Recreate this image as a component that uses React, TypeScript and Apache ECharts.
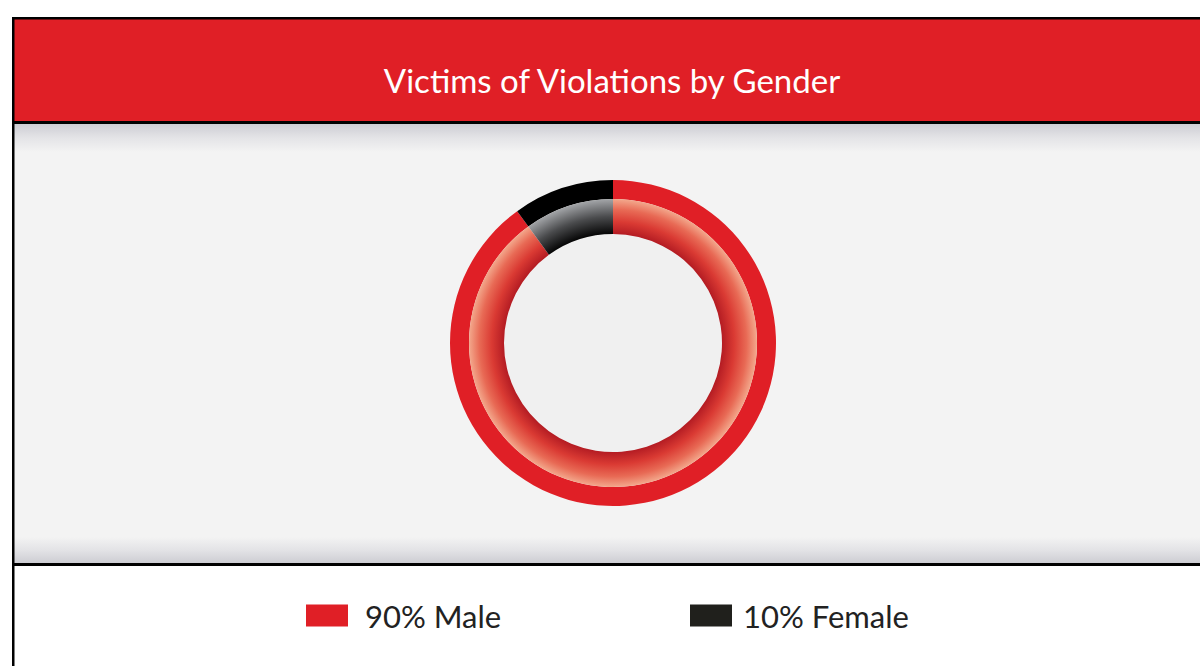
import React, { useEffect, useRef } from "react";
import * as echarts from "echarts";

const titleText = "Victims of Violations by Gender";
const categories = ["Male", "Female"];
const values = [90, 10];
const solidColors = ["#e01f26", "#000000"];
const legendColors = ["#e01f26", "#20201c"];

const CX = 613;
const CY = 343;
const R_IN = 109;
const R_MID = 144;
const R_OUT = 163;

export default function App() {
  const ref = useRef<HTMLDivElement>(null);
  useEffect(() => {
    if (!ref.current) return;
    const chart = echarts.init(ref.current, undefined, { renderer: "svg" });
    const f = R_IN / R_MID;
    const gradColors = [
      new echarts.graphic.RadialGradient(CX, CY, R_MID, [
        { offset: 0, color: "#b41c23" },
        { offset: f, color: "#b41c23" },
        { offset: f + (1 - f) * 0.35, color: "#da3a33" },
        { offset: f + (1 - f) * 0.7, color: "#e86a55" },
        { offset: 1, color: "#f3a88c" },
      ], true),
      new echarts.graphic.RadialGradient(CX, CY, R_MID, [
        { offset: 0, color: "#050505" },
        { offset: f, color: "#050505" },
        { offset: f + (1 - f) * 0.5, color: "#4a4b4d" },
        { offset: 1, color: "#a3a5a8" },
      ], true),
    ];
    const total = values.reduce((a, b) => a + b, 0);
    const fmt = (name: string) => {
      const i = categories.indexOf(name);
      return `${Math.round((values[i] / total) * 100)}% ${name}`;
    };
    const mkSeries = (radius: number[], colors: any[]) => ({
      type: "pie",
      center: [CX, CY],
      radius,
      startAngle: 90,
      clockwise: true,
      silent: true,
      label: { show: false },
      labelLine: { show: false },
      emphasis: { disabled: true },
      itemStyle: { borderWidth: 0 },
      data: categories.map((c, i) => ({
        name: c,
        value: values[i],
        itemStyle: { color: colors[i] },
      })),
    });
    const legendBase = {
      orient: "horizontal",
      top: 595,
      itemWidth: 42,
      itemHeight: 22,
      icon: "rect",
      selectedMode: false,
      formatter: fmt,
    };
    const ts = (pad: number) => ({
      fontFamily: "Lato",
      fontSize: 31,
      color: "#222222",
      padding: [0, 0, 0, pad],
    });
    chart.setOption({
      animation: false,
      backgroundColor: "#ffffff",
      legend: [
        {
          ...legendBase,
          left: 301,
          textStyle: ts(12),
          data: [{ name: categories[0], itemStyle: { color: legendColors[0] } }],
        },
        {
          ...legendBase,
          left: 685,
          textStyle: ts(6),
          data: [{ name: categories[1], itemStyle: { color: legendColors[1] } }],
        },
      ],
      graphic: [
        { type: "rect", z: -10, shape: { x: 14, y: 19, width: 1200, height: 103 }, style: { fill: "#e01f26" } },
        { type: "rect", z: -10, shape: { x: 14, y: 124, width: 1200, height: 439 }, style: { fill: "#f3f3f3" } },
        {
          type: "rect", z: -9, shape: { x: 14, y: 124, width: 1200, height: 28 },
          style: {
            fill: new echarts.graphic.LinearGradient(0, 0, 0, 1, [
              { offset: 0, color: "#cdcdd3" },
              { offset: 0.5, color: "#e4e4e7" },
              { offset: 1, color: "#f3f3f3" },
            ]),
          },
        },
        {
          type: "rect", z: -9, shape: { x: 14, y: 537, width: 1200, height: 26 },
          style: {
            fill: new echarts.graphic.LinearGradient(0, 0, 0, 1, [
              { offset: 0, color: "#f3f3f3" },
              { offset: 0.5, color: "#e3e3e6" },
              { offset: 1, color: "#cdcdd3" },
            ]),
          },
        },
        { type: "rect", z: -8, shape: { x: 12, y: 17, width: 1200, height: 2.5 }, style: { fill: "#000" } },
        { type: "rect", z: -8, shape: { x: 12, y: 121, width: 1200, height: 3 }, style: { fill: "#000" } },
        { type: "rect", z: -8, shape: { x: 12, y: 563, width: 1200, height: 3 }, style: { fill: "#000" } },
        { type: "rect", z: -8, shape: { x: 12, y: 17, width: 2.5, height: 660 }, style: { fill: "#000" } },
        { type: "circle", z: -7, shape: { cx: CX, cy: CY, r: R_IN }, style: { fill: "#f0f0f0" } },
        {
          type: "text", z: 5, x: 612, y: 80,
          style: {
            text: titleText,
            fill: "#ffffff",
            font: "33px Lato",
            textAlign: "center",
            textVerticalAlign: "middle",
          },
        },
      ],
      series: [mkSeries([R_MID, R_OUT], solidColors), mkSeries([R_IN, R_MID], gradColors)],
    });
    return () => chart.dispose();
  }, []);
  return (
    <div
      ref={ref}
      style={{ position: "absolute", left: 0, top: 0, width: 1200, height: 666 }}
    />
  );
}
